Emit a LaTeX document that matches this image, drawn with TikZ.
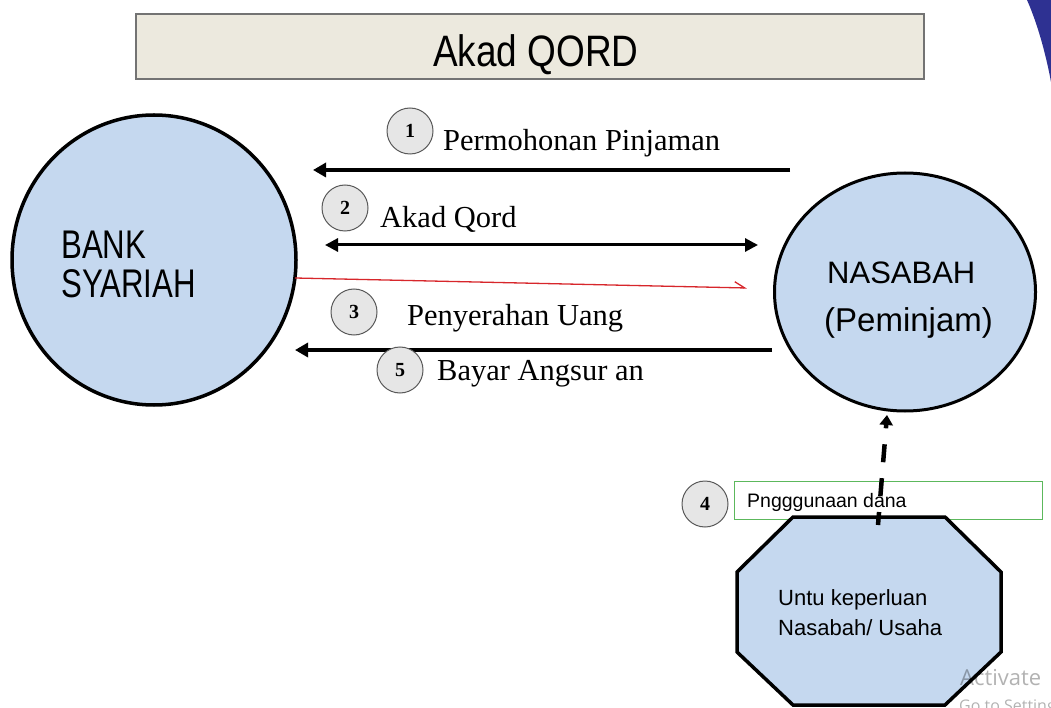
\documentclass[tikz,border=0pt]{standalone}
\usepackage{fontspec}
\setmainfont{Liberation Serif}
\newfontfamily\sansf{Liberation Sans}
\newfontfamily\narrowf[FakeStretch=0.78]{Liberation Sans}
\newfontfamily\titlef[FakeStretch=0.84]{Liberation Sans}
\newfontfamily\hintf{Open Sans}
\usetikzlibrary{arrows.meta,shapes.geometric}

\definecolor{fillblue}{HTML}{C5D8EF}
\definecolor{titlebg}{HTML}{ECE9DE}
\definecolor{navy}{HTML}{2E3192}
\definecolor{numbg}{HTML}{E6E6E6}
\definecolor{redline}{HTML}{D7262B}
\definecolor{greenbox}{HTML}{5CB85C}

\tikzset{
  party/.style={ellipse, draw=black, fill=fillblue, line width=3.5pt, inner sep=0pt},
  stepno/.style={circle, draw=black!65, fill=numbg, line width=1pt, minimum size=46pt,
    inner sep=0pt, font=\fontsize{20}{20}\selectfont\bfseries},
  flowtxt/.style={anchor=base west, inner sep=0pt, font=\fontsize{30.5}{36}\selectfont},
  sanstxt/.style={anchor=base west, inner sep=0pt},
  flow/.style={line width=4pt, -{Triangle[length=13pt,width=14pt]}},
  both/.style={line width=3pt, {Triangle[length=13pt,width=13pt]}-{Triangle[length=13pt,width=13pt]}},
  money/.style={draw=redline, line width=1.3pt, -{Straight Barb[harpoon,length=10pt,width=12pt]}},
  usage/.style={line width=4.5pt, dash pattern=on 18pt off 16pt, dash phase=5pt,
    -{Triangle[length=10pt,width=13pt]}},
}

\begin{document}
\begin{tikzpicture}[x=1pt,y=-1pt]
\useasboundingbox (0,0) rectangle (1051,708);
\clip (0,0) rectangle (1051,708);

% title bar
\node[draw=black!55, fill=titlebg, line width=1.5pt, minimum width=788pt,
  minimum height=65pt, inner sep=0pt] (title) at (530,46.5) {};
\node[sanstxt, font=\titlef\fontsize{44}{44}\selectfont] (titletext) at (433,67) {Akad QORD};

% corner ornament
\fill[navy] (1027,0) .. controls (1038,25) and (1046,55) .. (1051,82) -- (1051,0) -- cycle;

% the two parties
\node[party, minimum width=284pt, minimum height=290pt] (bank) at (154,260) {};
\node[sanstxt, font=\narrowf\fontsize{40}{40}\selectfont] (bank1) at (61,259) {BANK};
\node[sanstxt, font=\narrowf\fontsize{40}{40}\selectfont] (bank2) at (61,298) {SYARIAH};

\node[party, line width=3pt, minimum width=261pt, minimum height=238pt] (nas) at (905,292) {};
\node[sanstxt, font=\sansf\fontsize{31}{31}\selectfont] (nas1) at (827,284) {NASABAH};
\node[sanstxt, font=\sansf\fontsize{33}{33}\selectfont] (nas2) at (824,331) {(Peminjam)};

% connector end points
\coordinate (a1s) at (790,170);
\coordinate (a1e) at (313,170);
\coordinate (a2s) at (325,245);
\coordinate (a2e) at (758,245);
\coordinate (r1) at (295,278);
\coordinate (r2) at (747,288);
\coordinate (a5s) at (772,350);
\coordinate (a5e) at (295,350);

\draw[flow] (a1s) -- (a1e);
\draw[both] (a2s) -- (a2e);
\draw[money] (r1) -- (r2);
\draw[flow] (a5s) -- (a5e);

% step labels
\node[flowtxt] (t1) at (443,151) {Permohonan Pinjaman};
\node[flowtxt] (t2) at (380,228) {Akad Qord};
\node[flowtxt] (t3) at (407,325) {Penyerahan Uang};
\node[flowtxt] (t5) at (437,380) {Bayar Angsur an};

\node[stepno] (n1) at (410,131) {1};
\node[stepno] (n2) at (345,208) {2};
\node[stepno] (n3) at (354,312) {3};
\node[stepno] (n5) at (400,370) {5};
\node[stepno] (n4) at (705,504) {4};

% use of funds
\node[draw=greenbox, line width=1pt, fill=white, minimum width=308pt,
  minimum height=38pt, inner sep=0pt] (use) at (888,500) {};
\node[sanstxt, font=\sansf\fontsize{19.5}{20}\selectfont] (usetxt) at (747,507) {Pngggunaan dana};

\draw[line width=3.5pt, fill=fillblue, line join=miter]
  (793,517) -- (945,517) -- (1001,572) -- (1001,652) -- (945,705)
  -- (793,705) -- (737,652) -- (737,572) -- cycle;
\node[sanstxt, font=\sansf\fontsize{22}{22}\selectfont] (oct1) at (778,605) {Untu keperluan};
\node[sanstxt, font=\sansf\fontsize{22}{22}\selectfont] (oct2) at (778,635) {Nasabah/ Usaha};

\coordinate (d1) at (878,525);
\coordinate (d2) at (887,415);
\draw[usage] (d1) -- (d2);

% system notice
\node[sanstxt, font=\hintf\fontsize{22}{22}\selectfont, text opacity=0.3] (act) at (960,685) {Activate};
\node[sanstxt, font=\hintf\fontsize{16}{16}\selectfont, text opacity=0.3] (goto) at (959,711) {Go to Settings};
\end{tikzpicture}
\end{document}
